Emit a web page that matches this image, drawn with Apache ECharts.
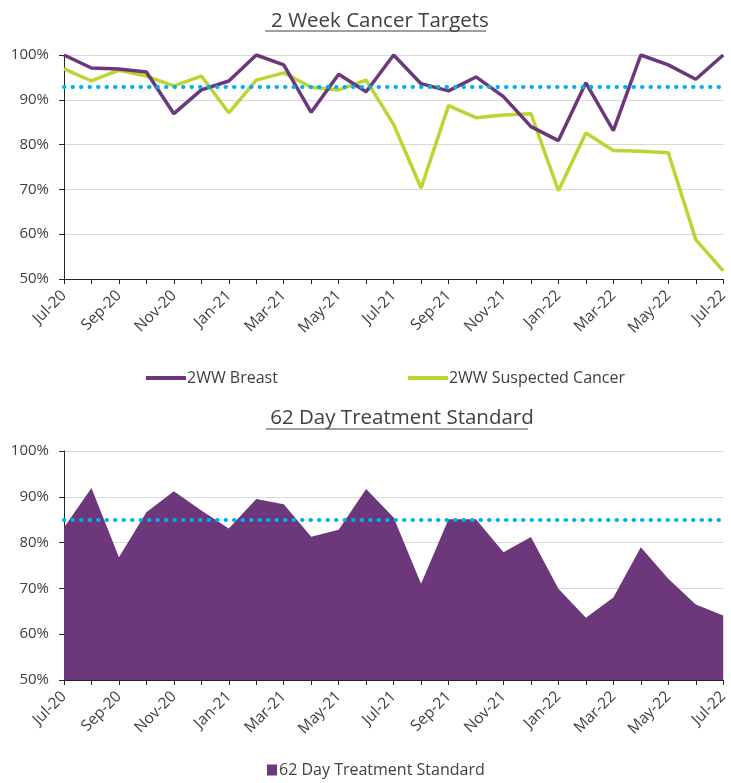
<!DOCTYPE html>
<html><head><meta charset="utf-8">
<script src="https://cdn.jsdelivr.net/npm/echarts@6/dist/echarts.min.js"></script>
<style>html,body{margin:0;padding:0;background:#fff}#c{width:731px;height:783px}</style>
</head><body><div id="c"></div>
<script>
const months = ['Jul-20','Aug-20','Sep-20','Oct-20','Nov-20','Dec-20','Jan-21','Feb-21','Mar-21','Apr-21','May-21','Jun-21','Jul-21','Aug-21','Sep-21','Oct-21','Nov-21','Dec-21','Jan-22','Feb-22','Mar-22','Apr-22','May-22','Jun-22','Jul-22'];
const breast2ww = [100,97.1,96.9,96.2,86.9,92.2,94.2,100,97.8,87.2,95.7,91.8,100,93.6,92.0,95.1,90.7,84.0,80.9,93.8,83.1,100,97.8,94.6,100];
const suspected2ww = [96.9,94.2,96.6,95.3,93.1,95.3,87.1,94.4,96.0,92.8,92.2,94.4,84.5,70.3,88.7,86.0,86.6,86.9,69.7,82.6,78.7,78.5,78.2,58.8,51.8];
const treatment62 = [83.3,91.9,76.8,86.6,91.2,87.0,83.1,89.5,88.4,81.3,82.8,91.7,85.5,71.0,85.1,85.1,77.9,81.2,69.9,63.6,68.0,79.0,72.1,66.5,64.1];
const target2ww = 93;
const target62 = 85;
const yMin = 50, yMax = 100, yStep = 10;

const FONT = '"Open Sans", "Noto Sans", sans-serif';
const TXT = '#404040';
const PURPLE = '#6c377b';
const GREEN = '#bcd531';
const BLUE = '#00b0f0';

const chart = echarts.init(document.getElementById('c'));
function xAxis(gi){
  return {type:'category', gridIndex:gi, data:months, boundaryGap:false,
    axisLine:{lineStyle:{color:'#262626', width:1}},
    axisTick:{show:true, interval:0, length:5, lineStyle:{color:'#262626'}},
    axisLabel:{interval:1, rotate:45, color:TXT, fontFamily:FONT, fontSize:15.5, margin:14},
    splitLine:{show:false}};
}
function yAxis(gi){
  return {type:'value', gridIndex:gi, min:yMin, max:yMax, interval:yStep,
    axisLine:{show:true, lineStyle:{color:'#262626'}},
    axisTick:{show:true, length:5, lineStyle:{color:'#262626'}},
    axisLabel:{formatter:'{value}%', color:TXT, fontFamily:FONT, fontSize:15, margin:15},
    splitLine:{lineStyle:{color:'#d9d9d9', width:1}}};
}
function targetLine(v){
  return {silent:true, symbol:'none', label:{show:false},
    lineStyle:{color:BLUE, type:[0.5,8], width:4, cap:'round'},
    data:[{yAxis:v}]};
}
chart.setOption({
  animation:false,
  title:[
    {text:'2 Week Cancer Targets', left:375, textAlign:'center', top:6, textStyle:{fontFamily:FONT, fontSize:20.5, fontWeight:'normal', color:TXT}},
    {text:'62 Day Treatment Standard', left:397, textAlign:'center', top:403, textStyle:{fontFamily:FONT, fontSize:20.5, fontWeight:'normal', color:TXT}}
  ],
  graphic:[
    {type:'line', shape:{x1:265, y1:31, x2:486, y2:31}, style:{stroke:TXT, lineWidth:1}},
    {type:'line', shape:{x1:266, y1:429, x2:528, y2:429}, style:{stroke:TXT, lineWidth:1}}
  ],
  grid:[
    {left:64, right:5, top:55, height:224},
    {left:64, right:5, top:451, height:229}
  ],
  legend:[
    {data:[{name:'2WW Breast', icon:'rect'},{name:'2WW Suspected Cancer', icon:'rect'}], top:365, left:141, itemGap:130,
      itemWidth:40, itemHeight:4, textStyle:{fontFamily:FONT, fontSize:16, color:TXT, padding:[0,0,0,-4]}},
    {data:[{name:'62 Day Treatment Standard', icon:'rect'}], top:757, left:262, itemWidth:10, itemHeight:11,
      textStyle:{fontFamily:FONT, fontSize:16, color:TXT, padding:[0,0,0,-3]}}
  ],
  xAxis:[xAxis(0), xAxis(1)],
  yAxis:[yAxis(0), yAxis(1)],
  series:[
    {name:'2WW Breast', type:'line', xAxisIndex:0, yAxisIndex:0, data:breast2ww, symbol:'none',
      lineStyle:{color:PURPLE, width:3.5}, itemStyle:{color:PURPLE}, z:3},
    {name:'2WW Suspected Cancer', type:'line', xAxisIndex:0, yAxisIndex:0, data:suspected2ww, symbol:'none',
      lineStyle:{color:GREEN, width:3.5}, itemStyle:{color:GREEN}, z:2, markLine:targetLine(target2ww)},
    {name:'62 Day Treatment Standard', type:'line', xAxisIndex:1, yAxisIndex:1, data:treatment62, symbol:'none',
      lineStyle:{width:0}, areaStyle:{color:PURPLE, opacity:1, origin:'start'}, itemStyle:{color:PURPLE},
      markLine:targetLine(target62)}
  ]
});
</script></body></html>
